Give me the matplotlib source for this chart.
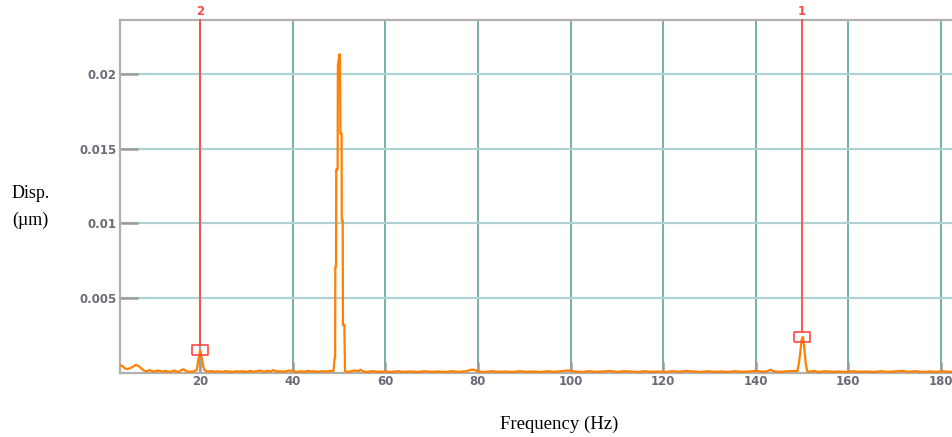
import matplotlib
matplotlib.use("Agg")
import matplotlib.pyplot as plt

# ---- data ----
freq_low = [2.7, 3.2, 3.7, 4.3, 4.9, 5.5, 6.0, 6.4, 6.9, 7.4, 8.0, 8.6, 9.1, 9.6, 10.2,
            10.8, 11.4, 12.0, 12.6, 13.2, 13.8, 14.4, 15.0, 15.5, 16.0, 16.5, 17.0, 17.6,
            18.2, 18.8, 19.3, 19.6, 19.8, 20.0, 20.2, 20.4, 20.6, 20.9, 21.3, 21.7]
disp_low = [0.0005, 0.00045, 0.0003, 0.00025, 0.0003, 0.0004, 0.0005, 0.0005, 0.0004,
            0.00025, 0.00012, 0.0001, 0.00018, 0.0001, 0.00008, 0.00015, 0.0001, 0.00008,
            0.00012, 0.00006, 0.00008, 0.00015, 0.00008, 0.00006, 0.0002, 0.00022, 0.0001,
            0.00006, 0.00008, 0.0001, 0.0002, 0.00085, 0.0011, 0.00152, 0.0013, 0.0009,
            0.0005, 0.0002, 0.0001, 0.00008]

freq_mid = [22.5, 23.2, 24.0, 24.8, 25.5, 26.3, 27.0, 27.8, 28.5, 29.3, 30.0, 30.8, 31.5,
            32.3, 33.0, 33.8, 34.5, 35.3, 35.8, 36.5, 37.3, 38.0, 38.8, 39.5, 40.2, 41.0,
            41.8, 42.5, 43.3, 44.0, 44.8, 45.5, 46.3, 47.0, 47.8, 48.4]
disp_mid = [0.0001, 0.00006, 0.0001, 0.00005, 0.0001, 0.00008, 0.00005, 0.0001, 0.00007,
            0.0001, 0.00005, 0.00012, 0.00006, 0.0001, 0.00015, 0.00006, 0.00012, 0.00008,
            0.00018, 0.00008, 0.0001, 0.00006, 0.00012, 0.00015, 0.00008, 0.00005, 0.0001,
            0.00006, 0.00012, 0.00008, 0.0001, 0.00005, 0.0001, 0.00008, 0.0001, 0.00012]

freq_peak50 = [48.8, 49.05, 49.16, 49.2, 49.35, 49.4, 49.7, 49.75, 50.05, 50.2, 50.3,
               50.55, 50.6, 50.8, 50.85, 51.15, 51.3]
disp_peak50 = [0.0001, 0.001, 0.001, 0.0071, 0.0071, 0.0136, 0.0136, 0.0205, 0.0213,
               0.0213, 0.016, 0.016, 0.0102, 0.0102, 0.0032, 0.0032, 0.0001]

freq_high = [51.8, 52.6, 53.5, 54.2, 54.6, 55.2, 56.0, 57.2, 58.5, 60.0, 61.3, 62.7, 64.0,
             65.5, 67.0, 68.4, 70.0, 71.5, 73.0, 74.5, 76.0, 77.5, 78.5, 79.2, 80.0, 81.5,
             83.0, 84.5, 86.0, 87.5, 89.0, 90.5, 92.0, 93.5, 95.0, 96.5, 98.0, 99.5, 101.0,
             102.5, 104.0, 105.5, 107.0, 108.5, 110.0, 111.5, 113.0, 114.5, 116.0, 117.5,
             119.0, 120.5, 122.0, 123.5, 125.0, 126.5, 128.0, 129.5, 131.0, 132.5, 134.0,
             135.5, 137.0, 138.5, 140.0, 141.5, 142.5, 143.2, 144.0, 145.5, 147.0, 148.3]
disp_high = [0.00005, 0.0001, 0.00015, 0.0001, 0.0002, 0.00008, 0.00005, 0.0001, 0.00006,
             0.00008, 0.00005, 0.0001, 0.00006, 0.00008, 0.00005, 0.0001, 0.00006, 0.00008,
             0.00005, 0.0001, 0.00006, 0.0001, 0.0002, 0.0002, 0.00008, 0.00005, 0.0001,
             0.00006, 0.00008, 0.00005, 0.0001, 0.00006, 0.00008, 0.00005, 0.0001, 0.00006,
             0.0001, 0.00015, 0.00008, 0.00005, 0.0001, 0.00006, 0.00008, 0.00012, 0.00005,
             0.0001, 0.00008, 0.00005, 0.0001, 0.00006, 0.00008, 0.00005, 0.0001, 0.00006,
             0.00012, 0.00008, 0.00005, 0.0001, 0.00006, 0.00008, 0.00005, 0.0001, 0.00006,
             0.00008, 0.00012, 0.00006, 0.0001, 0.0002, 0.00008, 0.00006, 0.0001, 0.00012]

freq_peak150 = [149.0, 149.3, 149.6, 149.9, 150.2, 150.5, 150.8, 151.1]
disp_peak150 = [0.0001, 0.0006, 0.0013, 0.0022, 0.0024, 0.0016, 0.0006, 0.0001]

freq_tail = [151.6, 152.5, 153.5, 155.0, 156.5, 158.0, 159.5, 161.0, 162.5, 164.0, 165.5,
             167.0, 168.5, 170.0, 171.5, 173.0, 174.5, 176.0, 177.5, 179.0, 180.5, 182.0,
             182.6]
disp_tail = [0.00006, 0.00012, 0.00005, 0.0001, 0.00006, 0.00008, 0.00005, 0.0001, 0.00006,
             0.00008, 0.00005, 0.0001, 0.00006, 0.00008, 0.00012, 0.00006, 0.0001, 0.00005,
             0.00008, 0.00006, 0.0001, 0.00005, 0.00008]

marker_freqs = [150.0, 20.0]
marker_disps = [0.0024, 0.00152]
marker_labels = ["1", "2"]

x_ticks = [20, 40, 60, 80, 100, 120, 140, 160, 180]
y_ticks = [0.005, 0.01, 0.015, 0.02]
y_tick_labels = ["0.005", "0.01", "0.015", "0.02"]

freq = freq_low + freq_mid + freq_peak50 + freq_high + freq_peak150 + freq_tail
disp = disp_low + disp_mid + disp_peak50 + disp_high + disp_peak150 + disp_tail

# ---- figure ----
W, H = 953, 437
fig = plt.figure(figsize=(W / 100, H / 100), dpi=100)
ax_left, ax_right, ax_top, ax_bottom = 120, 953, 20, 372.7
ax = fig.add_axes([ax_left / W, 1 - ax_bottom / H, (ax_right - ax_left) / W,
                   (ax_bottom - ax_top) / H])
ax.set_xlim(2.7, 182.6)
ax.set_ylim(0, 0.0236)
ax.set_axisbelow(True)

orange = "#ff8000"
red = "#ff4848"

ax.plot(freq, disp, color=orange, lw=1.6, zorder=3)

ax.set_xticks(x_ticks)
ax.set_yticks(y_ticks)
ax.set_yticklabels(y_tick_labels)
ax.xaxis.grid(True, color="#78adad", lw=1.4)
ax.yaxis.grid(True, color="#acd2d2", lw=1.6)
ax.tick_params(axis="y", direction="in", length=13, width=1.8, color="#9c9c9c",
               pad=2.5, labelsize=8.5, labelcolor="#6a6a78")
ax.tick_params(axis="x", direction="in", length=8, width=1.8, color="#9c9c9c",
               pad=1.5, labelsize=8.5, labelcolor="#6a6a78")
for lab in ax.get_xticklabels() + ax.get_yticklabels():
    lab.set_fontweight("semibold")

for s in ["left", "top", "bottom"]:
    ax.spines[s].set_color("#b0b0b0")
    ax.spines[s].set_linewidth(1.6)
ax.spines["right"].set_visible(False)

# markers
box = [(-1.5, -1), (1.5, -1), (1.5, 1), (-1.5, 1), (-1.5, -1)]
box_half = 0.000335
ytop = ax.get_ylim()[1]
for fx, dy, lab in zip(marker_freqs, marker_disps, marker_labels):
    ax.plot([fx, fx], [dy + box_half, ytop], color=red, lw=1.3, zorder=4,
            clip_on=False)
    ax.plot([fx], [dy], marker=box, markersize=11, markerfacecolor="none",
            markeredgecolor=red, markeredgewidth=1.2, zorder=5, linestyle="none")
    ax.annotate(lab, xy=(fx, ytop), xytext=(0, 1.5), textcoords="offset points",
                ha="center", va="bottom", color=red, fontsize=8.5,
                fontweight="semibold", annotation_clip=False)

serif = ["Liberation Serif", "DejaVu Serif"]
fig.text(12 / W, 1 - 193 / H, "Disp.", family=serif, fontsize=13, ha="left",
         va="center")
fig.text(12 / W, 1 - 220 / H, "(µm)", family=serif, fontsize=13, ha="left",
         va="center")
fig.text(559 / W, 1 - 424 / H, "Frequency (Hz)", family=serif, fontsize=13.5,
         ha="center", va="center")

fig.savefig("out.png", dpi=100)
